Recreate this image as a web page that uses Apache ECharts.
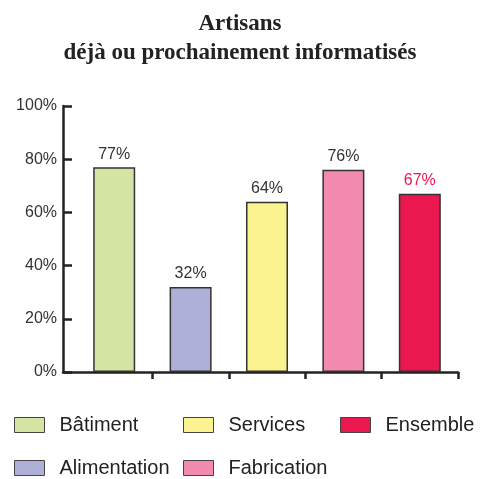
<!DOCTYPE html>
<html><head><meta charset="utf-8">
<script src="https://cdn.jsdelivr.net/npm/echarts@6/dist/echarts.min.js"></script>
<style>html,body{margin:0;padding:0;background:#fff}#c{width:480px;height:479px}</style>
</head><body><div id="c"></div>
<script>
var categories = ['Bâtiment', 'Alimentation', 'Services', 'Fabrication', 'Ensemble'];
var values = [77, 32, 64, 76, 67];
var colors = ['#d3e4a3', '#aeb0d8', '#fbf38f', '#f38bb1', '#eb184f'];
var labelColors = ['#333', '#333', '#333', '#333', '#e8194f'];
var yTicks = [0, 20, 40, 60, 80, 100];

var chart = echarts.init(document.getElementById('c'));
var series = categories.map(function (name, i) {
  return {
    name: name, type: 'bar', xAxisIndex: 0, yAxisIndex: 0,
    barWidth: 42, barGap: '-100%',
    data: values.map(function (v, j) { return j === i ? v : '-'; }),
    itemStyle: { color: colors[i], borderColor: '#333', borderWidth: 1.5 },
    label: { show: true, position: 'top', distance: 5, formatter: '{c}%',
      color: labelColors[i], fontSize: 16, fontFamily: 'Liberation Sans, Arial, sans-serif' }
  };
});
var legendPos = [[14, 415], [14, 458], [183, 415], [183, 458], [340, 415]];
var legends = categories.map(function (name, i) {
  return {
    left: legendPos[i][0], top: legendPos[i][1], padding: 0, data: [name],
    itemWidth: 30, itemHeight: 15, icon: 'rect',
    itemStyle: { borderColor: '#444', borderWidth: 1 },
    textStyle: { fontSize: 20, color: '#222', lineHeight: 20, padding: [0, 0, 0, 10],
      fontFamily: 'Liberation Sans, Arial, sans-serif' },
    selectedMode: false
  };
});
chart.setOption({
  animation: false,
  title: {
    text: 'Artisans\ndéjà ou prochainement informatisés',
    left: 'center', top: 5,
    textStyle: { fontFamily: 'Liberation Serif, Times New Roman, serif', fontWeight: 'bold',
      fontSize: 23, lineHeight: 29, color: '#222' }
  },
  legend: legends,
  grid: [
    { left: 76, right: 22, top: 106, bottom: 107 },
    { left: 63, right: 22, top: 106, bottom: 107 }
  ],
  xAxis: [
    { type: 'category', gridIndex: 0, data: categories, boundaryGap: true,
      axisLine: { show: false },
      axisTick: { show: true, length: 7, lineStyle: { color: '#222', width: 2.5 },
        interval: function (idx) { return idx !== 0; } },
      axisLabel: { show: false } },
    { type: 'value', gridIndex: 1, min: 0, max: 1,
      axisLine: { show: true, lineStyle: { color: '#222', width: 2.5 } },
      axisTick: { show: false }, axisLabel: { show: false }, splitLine: { show: false } }
  ],
  yAxis: [
    { type: 'value', gridIndex: 0, min: 0, max: 100, interval: 20, show: false },
    { type: 'value', gridIndex: 1, min: yTicks[0], max: yTicks[yTicks.length - 1], interval: 20,
      axisLine: { show: true, lineStyle: { color: '#222', width: 2.5 } },
      axisTick: { show: true, inside: true, length: 9, lineStyle: { color: '#222', width: 2.5 } },
      axisLabel: { formatter: '{value}%', fontSize: 16, color: '#333', margin: 6,
        fontFamily: 'Liberation Sans, Arial, sans-serif' },
      splitLine: { show: false } }
  ],
  series: series
});
</script></body></html>
